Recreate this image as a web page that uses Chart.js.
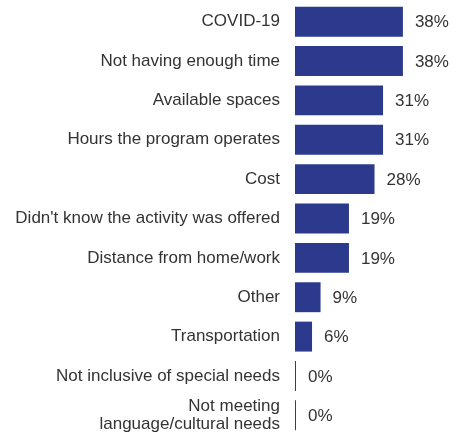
<!DOCTYPE html>
<html>
<head>
<meta charset="utf-8">
<script src="https://cdn.jsdelivr.net/npm/chart.js@4.4.0/dist/chart.umd.min.js"></script>
<style>
html,body{margin:0;padding:0;background:#fff;}
#wrap{width:453px;height:435px;position:relative;}
</style>
</head>
<body>
<div id="wrap"><canvas id="c"></canvas></div>
<script>
const categories = [
  "COVID-19",
  "Not having enough time",
  "Available spaces",
  "Hours the program operates",
  "Cost",
  "Didn't know the activity was offered",
  "Distance from home/work",
  "Other",
  "Transportation",
  "Not inclusive of special needs",
  ["Not meeting", "language/cultural needs"]
];
const values = [38, 38, 31, 31, 28, 19, 19, 9, 6, 0, 0];
const valueLabels = ["38%", "38%", "31%", "31%", "28%", "19%", "19%", "9%", "6%", "0%", "0%"];

const FONT = "'Liberation Sans', Arial, sans-serif";
const TEXT = "#333333";

const valueLabelPlugin = {
  id: 'valueLabels',
  afterDatasetsDraw(chart) {
    const ctx = chart.ctx;
    const meta = chart.getDatasetMeta(0);
    ctx.save();
    ctx.font = "17px " + FONT;
    ctx.fillStyle = TEXT;
    ctx.textAlign = 'left';
    ctx.textBaseline = 'middle';
    meta.data.forEach((bar, i) => {
      const x = Math.max(bar.x, bar.base + 1);
      ctx.fillText(valueLabels[i], x + 12, bar.y + 1);
    });
    ctx.restore();
  }
};

new Chart(document.getElementById('c'), {
  type: 'bar',
  data: {
    labels: categories,
    datasets: [{
      data: values,
      backgroundColor: '#2B3A8C',
      borderWidth: 0,
      minBarLength: 1,
      categoryPercentage: 0.8,
      barPercentage: 0.95
    }]
  },
  options: {
    indexAxis: 'y',
    responsive: true,
    maintainAspectRatio: false,
    animation: false,
    layout: { padding: { top: 2, right: 16, bottom: 0, left: 0 } },
    plugins: { legend: { display: false }, tooltip: { enabled: false } },
    scales: {
      x: {
        display: false,
        min: 0,
        max: 50
      },
      y: {
        grid: { display: false, drawTicks: false },
        border: { display: false },
        ticks: {
          color: TEXT,
          padding: 15,
          font: { family: FONT, size: 17, lineHeight: 1.05 }
        },
        afterFit(scale) {
          scale.width = 295;
          scale.paddingTop = 0;
          scale.paddingBottom = 0;
        }
      }
    }
  },
  plugins: [valueLabelPlugin]
});
</script>
</body>
</html>
